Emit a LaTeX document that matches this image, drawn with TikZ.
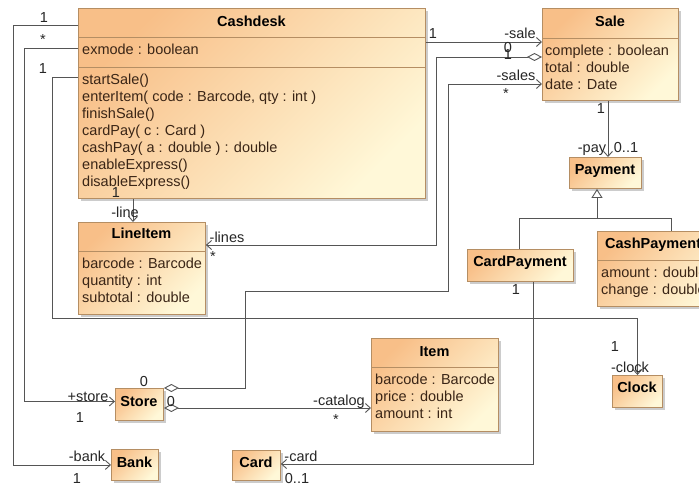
\documentclass[tikz,border=0pt]{standalone}
\usepackage{fontspec}
\setmainfont{Liberation Sans}
\usetikzlibrary{arrows.meta,shadows}
\definecolor{clsA}{HTML}{F8BF88}
\definecolor{clsB}{HTML}{FFF8D8}
\definecolor{clsborder}{HTML}{B58E63}
\definecolor{txtc}{HTML}{3A2516}
\definecolor{linec}{HTML}{555555}
\newcommand\umlfont{\fontsize{14.5}{17}\selectfont}
\begin{document}
\begin{tikzpicture}[x=1pt,y=-1pt,
 cls/.style={draw=clsborder, line width=0.9pt, top color=clsA, bottom color=clsB, shading angle=45, anchor=north west, inner sep=0pt, general shadow={fill=black!20, shadow xshift=3pt, shadow yshift=-3pt}},
 sepline/.style={draw=clsborder, line width=0.9pt},
 ttl/.style={font=\umlfont\bfseries, text=black, inner sep=0pt, text height=10.4pt, text depth=0pt},
 attr/.style={font=\umlfont, text=txtc, inner sep=0pt, anchor=west, text height=10.4pt, text depth=0pt},
 lbl/.style={font=\umlfont, text=black!85, inner sep=0pt, text height=10.4pt, text depth=0pt},
 conn/.style={draw=linec, line width=0.9pt},
 nav/.style={conn, -{Straight Barb[length=5pt,width=9pt]}},
 aggr/.style={conn, {Diamond[open,fill=white,length=15pt,width=8pt]}-},
 aggrnav/.style={conn, {Diamond[open,fill=white,length=15pt,width=8pt]}-{Straight Barb[length=5pt,width=9pt]}},
 gen/.style={conn, -{Triangle[open,fill=white,length=9pt,width=11pt]}}
]
\clip (0,0) rectangle (699,484);
\fill[white] (0,0) rectangle (699,484);

% ---------- classes ----------
\node[cls, minimum width=347pt, minimum height=190pt] (cashdesk) at (78,8) {};
\draw[sepline] (cashdesk.west |- 0,37.5) -- (cashdesk.east |- 0,37.5);
\draw[sepline] (cashdesk.west |- 0,67) -- (cashdesk.east |- 0,67);
\node[ttl] (cashdeskT) at (251.5,21) {Cashdesk};
\node[attr] (cd1) at (82,49) {exmode : boolean};
\node[attr] (cd2) at (82,79) {startSale()};
\node[attr] (cd3) at (82,96) {enterItem( code : Barcode, qty : int )};
\node[attr] (cd4) at (82,113) {finishSale()};
\node[attr] (cd5) at (82,130) {cardPay( c : Card )};
\node[attr] (cd6) at (82,147) {cashPay( a : double ) : double};
\node[attr] (cd7) at (82,164) {enableExpress()};
\node[attr] (cd8) at (82,181) {disableExpress()};

\node[cls, minimum width=136pt, minimum height=92pt] (sale) at (542,8) {};
\draw[sepline] (sale.west |- 0,38) -- (sale.east |- 0,38);
\node[ttl] (saleT) at (610,21) {Sale};
\node[attr] (sa1) at (545,50) {complete : boolean};
\node[attr] (sa2) at (545,67) {total : double};
\node[attr] (sa3) at (545,84) {date : Date};

\node[cls, minimum width=72pt, minimum height=31pt] (payment) at (569,157) {};
\node[ttl] (paymentT) at (605,169) {Payment};

\node[cls, minimum width=127pt, minimum height=92pt] (lineitem) at (78,222) {};
\draw[sepline] (lineitem.west |- 0,251) -- (lineitem.east |- 0,251);
\node[ttl] (lineitemT) at (141.5,233) {LineItem};
\node[attr] (li1) at (82,263) {barcode : Barcode};
\node[attr] (li2) at (82,280) {quantity : int};
\node[attr] (li3) at (82,297) {subtotal : double};

\node[cls, minimum width=106pt, minimum height=32pt] (cardpayment) at (467,249) {};
\node[ttl] (cardpaymentT) at (520,261) {CardPayment};

\node[cls, minimum width=130pt, minimum height=75pt] (cashpayment) at (597,231) {};
\draw[sepline] (cashpayment.west |- 0,260) -- (cashpayment.east |- 0,260);
\node[ttl, anchor=west] (cashpaymentT) at (605,243) {CashPayment};
\node[attr] (cp1) at (601,272) {amount : double};
\node[attr] (cp2) at (601,289) {change : double};

\node[cls, minimum width=127pt, minimum height=93pt] (item) at (371,338) {};
\draw[sepline] (item.west |- 0,367) -- (item.east |- 0,367);
\node[ttl] (itemT) at (434.5,351) {Item};
\node[attr] (it1) at (375,379) {barcode : Barcode};
\node[attr] (it2) at (375,396) {price : double};
\node[attr] (it3) at (375,413) {amount : int};

\node[cls, minimum width=50pt, minimum height=32pt] (clock) at (612,375) {};
\node[ttl] (clockT) at (637,387) {Clock};

\node[cls, minimum width=48pt, minimum height=32pt] (store) at (115,388) {};
\node[ttl] (storeT) at (139,401) {Store};

\node[cls, minimum width=47pt, minimum height=31pt] (bank) at (111,449) {};
\node[ttl] (bankT) at (134.5,462) {Bank};

\node[cls, minimum width=48pt, minimum height=30pt] (card) at (232,450) {};
\node[ttl] (cardT) at (256,462) {Card};

% ---------- connectors ----------
\draw[nav] (cashdesk.west |- 0,25) -- (13,25) |- (bank.west);
\draw[nav] (cashdesk.west |- 0,48) -- (24,48) |- ([yshift=3pt]store.west);
\draw[nav] (cashdesk.west |- 0,77) -- (52,77) -- (52,318) -| (clock.north);
\draw[nav] (cashdesk.south -| 133,0) -- (lineitem.north -| 133,0);
\draw[nav] (cashdesk.east |- 0,42) -- (sale.west |- 0,42);
\draw[aggrnav] (sale.west |- 0,57) -- (436,57) -- (436,245) -- (lineitem.east |- 0,245);
\draw[aggrnav] (store.north east) -- (245,388) -- (245,291) -- (448,291) -- (448,84) -- (sale.west |- 0,84);
\draw[aggrnav] (store.east |- 0,408) -- (item.west |- 0,408);
\draw[nav] (cardpayment.south -| 533,0) -- (533,464) -- (card.east |- 0,464);
\draw[nav] (sale.south -| 608,0) -- (payment.north -| 608,0);
\draw[gen] (cardpayment.north -| 519,0) |- (597,218) -- (payment.south -| 597,0);
\draw[conn] (cashpayment.north -| 671,0) |- (597,218);

% ---------- labels ----------
\node[lbl] (m1) at (44,17) {1};
\node[lbl] (m2) at (43,39) {*};
\node[lbl] (m3) at (43,68) {1};
\node[lbl] (m4) at (87,456) {-bank};
\node[lbl] (m5) at (77,478) {1};
\node[lbl] (m6) at (88,396) {+store};
\node[lbl] (m7) at (80,417) {1};
\node[lbl] (m8) at (144,381) {0};
\node[lbl] (m9) at (171,401) {0};
\node[lbl] (m10) at (339,400) {-catalog};
\node[lbl] (m11) at (336,419) {*};
\node[lbl] (m12) at (301,456) {-card};
\node[lbl] (m13) at (297,478) {0..1};
\node[lbl] (m14) at (630,367) {-clock};
\node[lbl] (m15) at (615,346) {1};
\node[lbl] (m16) at (516,289) {1};
\node[lbl] (m17) at (125,212) {-line};
\node[lbl] (m18) at (116,192) {1};
\node[lbl] (m19) at (227,237) {-lines};
\node[lbl] (m20) at (213,256) {*};
\node[lbl] (m21) at (433,33) {1};
\node[lbl] (m22) at (520,33) {-sale};
\node[lbl] (m23) at (508,47) {0};
\node[lbl] (m24) at (508,54) {1};
\node[lbl] (m25) at (516,75) {-sales};
\node[lbl] (m26) at (506,93) {*};
\node[lbl] (m27) at (601,108) {1};
\node[lbl] (m28) at (592,147) {-pay};
\node[lbl] (m29) at (626,147) {0..1};
\end{tikzpicture}
\end{document}
